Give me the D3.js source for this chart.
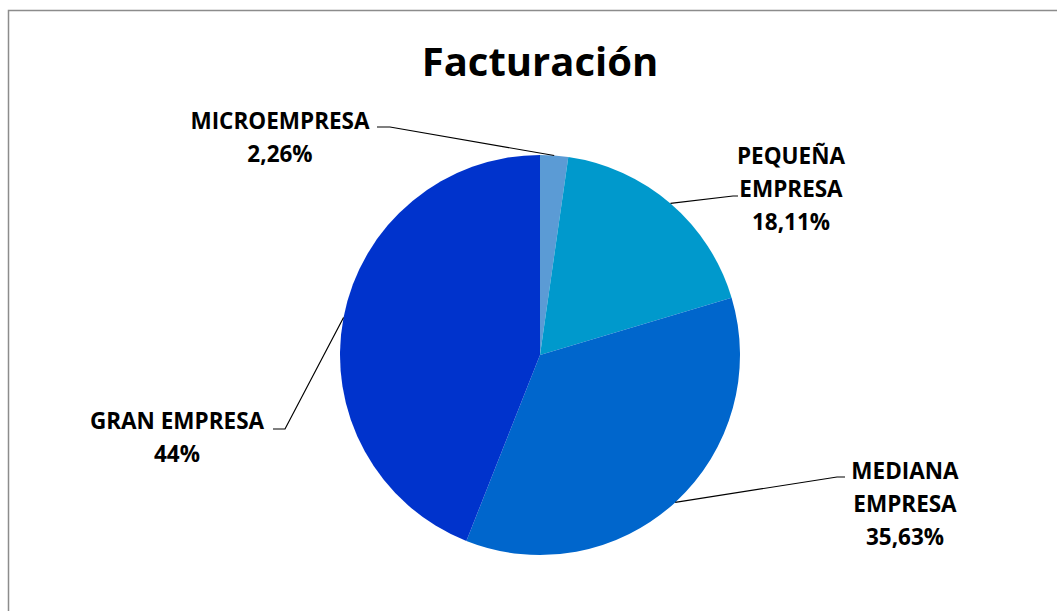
<!DOCTYPE html>
<html><head><meta charset="utf-8">
<script src="https://cdn.jsdelivr.net/npm/d3@7"></script>
<style>html,body{margin:0;padding:0;background:#fff;}svg{display:block;}</style>
</head><body>
<svg id="chart" width="1057" height="611"></svg>
<script>
const categories = ["MICROEMPRESA", "PEQUEÑA EMPRESA", "MEDIANA EMPRESA", "GRAN EMPRESA"];
const values = [2.26, 18.11, 35.63, 44];
const valueLabels = ["2,26%", "18,11%", "35,63%", "44%"];
const labelLines = [["MICROEMPRESA"], ["PEQUEÑA", "EMPRESA"], ["MEDIANA", "EMPRESA"], ["GRAN EMPRESA"]];
const colors = ["#5b9bd5", "#0099cc", "#0066cc", "#0033cc"];
const title = "Facturación";

// layout
const W = 1057, H = 611;
const cx = 540, cy = 355, R = 200;
const FONT = "'Open Sans', 'DejaVu Sans', sans-serif";
const labelLayout = [
  {x: 280, y: 129, elbowX: 390, endX: 377, lineY: 127},
  {x: 791, y: 164, elbowX: 733, endX: 738, lineY: 196},
  {x: 905, y: 479, elbowX: 837, endX: 845, lineY: 477},
  {x: 177, y: 429, elbowX: 285, endX: 273, lineY: 429}
];
const lineGap = 33;

const svg = d3.select("#chart");
svg.append("rect").attr("x", 8.5).attr("y", 10.5).attr("width", W + 20).attr("height", H + 20)
  .attr("fill", "#fff").attr("stroke", "#8c8c8c").attr("stroke-width", 1.5);

svg.append("text").attr("x", cx).attr("y", 76).attr("text-anchor", "middle")
  .attr("font-family", FONT).attr("font-weight", 700).attr("font-size", 40)
  .attr("fill", "#000").text(title);

const data = categories.map((c, i) => ({name: c, value: values[i], i}));
const pie = d3.pie().value(d => d.value).sort(null);
const arcs = pie(data);
const arc = d3.arc().innerRadius(0).outerRadius(R);

const g = svg.append("g").attr("transform", `translate(${cx},${cy})`);
g.selectAll("path.slice").data(arcs).enter().append("path")
  .attr("class", "slice").attr("d", arc).attr("fill", d => colors[d.data.i]);

// leader lines
arcs.forEach((a, i) => {
  const L = labelLayout[i];
  const mid = (a.startAngle + a.endAngle) / 2;
  const px = cx + R * Math.sin(mid), py = cy - R * Math.cos(mid);
  const pts = [[px, py], [L.elbowX, L.lineY], [L.endX, L.lineY]];
  svg.append("path").attr("d", d3.line()(pts)).attr("fill", "none")
    .attr("stroke", "#000").attr("stroke-width", 1.2);
});

// labels
arcs.forEach((a, i) => {
  const L = labelLayout[i];
  const lines = labelLines[i].concat([valueLabels[i]]);
  const t = svg.append("text").attr("text-anchor", "middle")
    .attr("font-family", FONT).attr("font-weight", 700).attr("font-size", 22.5).attr("fill", "#000");
  lines.forEach((ln, k) => {
    t.append("tspan").attr("x", L.x).attr("y", L.y + k * lineGap).text(ln);
  });
});
</script>
</body></html>
